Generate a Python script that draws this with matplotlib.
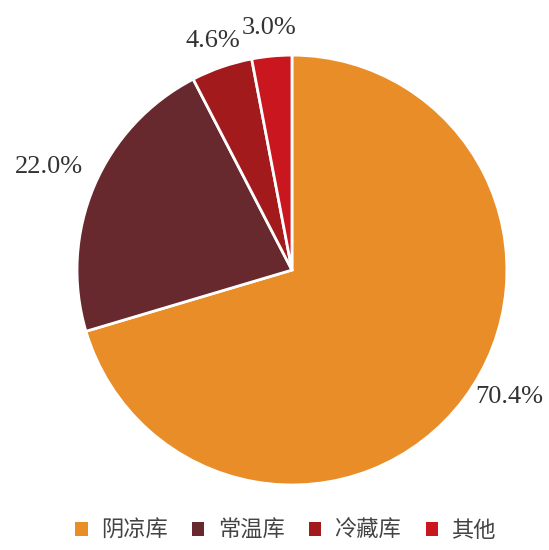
import numpy as np
import matplotlib.pyplot as plt
from matplotlib.patches import Patch

# -----------------------------
# Data
# -----------------------------
categories = ['阴凉库', '常温库', '冷藏库', '其他']
shares = [70.4, 22.0, 4.6, 3.0]
colors = ['#E88D27', '#67292E', '#A31A1C', '#C9161F']

plt.rcParams['font.family'] = ['Liberation Serif', 'DejaVu Serif']

fig = plt.figure(figsize=(5.49, 5.50), dpi=100)
ax = fig.add_axes([0.1403, 0.118, 0.783, 0.782])

wedges, texts = ax.pie(shares, colors=colors, startangle=90, counterclock=False,
                       wedgeprops=dict(edgecolor='white', linewidth=2))
ax.set_xlim(-1, 1)
ax.set_ylim(-1, 1)
ax.set_aspect('equal')

# -----------------------------
# Percent labels outside the pie
# -----------------------------
label_dist = [1.17, 1.23, 1.13, 1.13]
label_shift = [6.5, 0, 0, 0]   # degrees, nudges the big label upward
for w, v, d, s in zip(wedges, shares, label_dist, label_shift):
    ang = np.deg2rad((w.theta1 + w.theta2) / 2 + s)
    ax.text(d * np.cos(ang), d * np.sin(ang), f'{v:.1f}%',
            ha='center', va='center', fontsize=19, color='#333333')

# -----------------------------
# Legend
# -----------------------------
handles = [Patch(facecolor=c, edgecolor='none') for c in colors]
fig.legend(handles, categories, loc='center', bbox_to_anchor=(0.52, 0.036),
           ncol=4, frameon=False, handlelength=0.55, handleheight=0.55,
           handletextpad=0.6, columnspacing=1.1, labelcolor='#444444',
           prop={'family': ['Noto Sans CJK SC', 'DejaVu Sans'], 'size': 16})

fig.savefig('out.png', dpi=100)
